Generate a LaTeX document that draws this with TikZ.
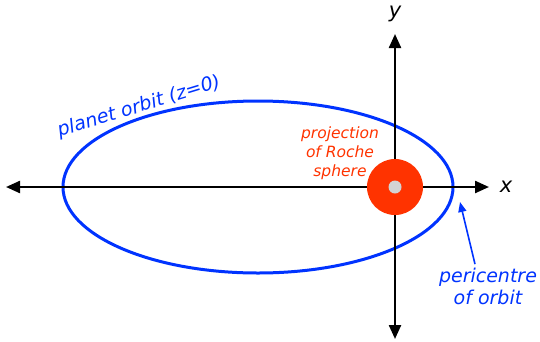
\documentclass[tikz,border=0pt]{standalone}
\usepackage{fontspec}
\setmainfont{DejaVu Sans}
\usetikzlibrary{arrows.meta}
\definecolor{orbitblue}{HTML}{0033FF}
\definecolor{rochered}{HTML}{FF3300}
\definecolor{coregray}{HTML}{D3D3D3}
\begin{document}
\begin{tikzpicture}[x=1pt, y=-1pt,
	axis/.style={line width=2.3pt, {Triangle[length=14pt,width=12pt]}-{Triangle[length=14pt,width=12pt]}},
	bluetext/.style={orbitblue, font=\itshape\fontsize{19}{22}\selectfont, align=center}]
		\useasboundingbox (0,0) rectangle (540,341);
		\draw[orbitblue, line width=3pt] (258,187) ellipse [x radius=195, y radius=86];
		\coordinate (xl) at (6,187);
		\coordinate (xr) at (489,187);
		\coordinate (yt) at (395,34);
		\coordinate (yb) at (395,339);
		\draw[axis] (xl) -- (xr);
		\draw[axis] (yb) -- (yt);
		\node[font=\itshape\fontsize{21}{24}\selectfont] (xlab) at (506,187) {x};
		\node[font=\itshape\fontsize{21}{24}\selectfont] (ylab) at (395,14) {y};
		\node[circle, fill=rochered, minimum size=56pt, inner sep=0pt] (roche) at (395,187) {};
		\node[circle, fill=coregray, minimum size=13pt, inner sep=0pt] (planet) at (roche) {};
		\node[rochered, font=\itshape\fontsize{15.5}{19}\selectfont, align=center] (rochelab) at (340,153) {projection\\of Roche\\sphere};
		\node[bluetext, rotate=17] (orbitlab) at (139,107) {planet orbit (z=0)};
		\node[bluetext] (perilab) at (488,286) {pericentre\\of orbit};
		\coordinate (peri) at (460,202);
		\draw[orbitblue, line width=1.6pt, -{Triangle[length=10pt,width=8pt]}] ([xshift=-13pt]perilab.north) -- (peri);
\end{tikzpicture}
\end{document}
